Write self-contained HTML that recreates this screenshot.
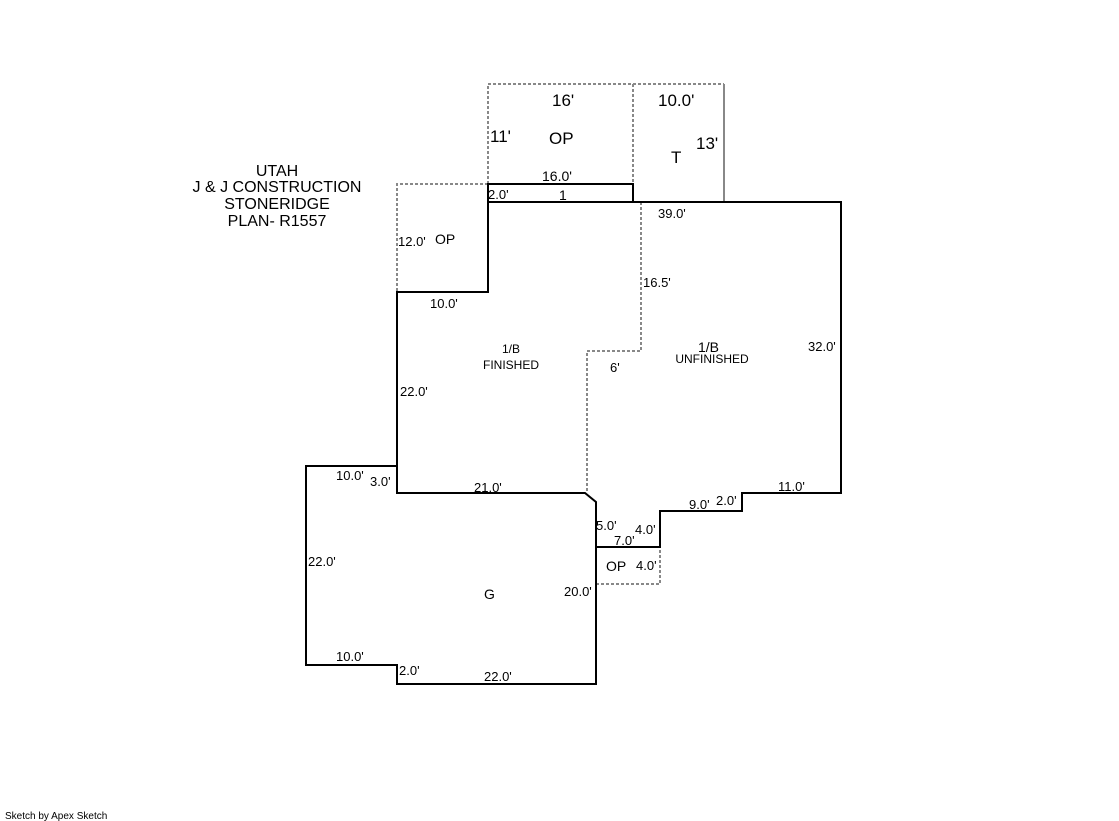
<!DOCTYPE html>
<html><head><meta charset="utf-8"><style>
html,body{margin:0;padding:0;background:#fff;}
svg{display:block;}
text{font-family:"Liberation Sans",Arial,sans-serif;fill:#000;}
</style></head><body>
<svg width="1119" height="821" viewBox="0 0 1119 821" xmlns="http://www.w3.org/2000/svg">
<g fill="none" stroke="#888" stroke-width="2" stroke-dasharray="3,2">
<polyline points="488,184 488,84 633,84 633,202"/>
<polyline points="633,84 724,84"/>
<polyline points="488,184 397,184 397,292"/>
<polyline points="641,202 641,351 587,351 587,493"/>
<polyline points="596,584 660,584 660,547"/>
</g>
<line x1="724" y1="84" x2="724" y2="202" stroke="#888" stroke-width="2"/>
<g fill="none" stroke="#000" stroke-width="2">
<rect x="488" y="184" width="145" height="18"/>
<polygon points="488,202 841,202 841,493 742,493 742,511 660,511 660,547 596,547 596,502 585,493 397,493 397,292 488,292"/>
<polyline points="397,466 306,466 306,665 397,665 397,684 596,684 596,547"/>
</g>
<g font-size="16" text-anchor="middle">
<text x="277" y="176">UTAH</text>
<text x="277" y="192">J &amp; J CONSTRUCTION</text>
<text x="277" y="209">STONERIDGE</text>
<text x="277" y="226">PLAN- R1557</text>
</g>
<g font-size="17">
<text x="552" y="106">16'</text>
<text x="490" y="142">11'</text>
<text x="549" y="144">OP</text>
<text x="658" y="106">10.0'</text>
<text x="696" y="149">13'</text>
<text x="671" y="163">T</text>
</g>
<g font-size="14">
<text x="542" y="181">16.0'</text>
<text x="559" y="200">1</text>
<text x="435" y="244">OP</text>
<text x="698" y="352">1/B</text>
<text x="606" y="571">OP</text>
<text x="484" y="599">G</text>
</g>
<g font-size="13">
<text x="488" y="199">2.0'</text>
<text x="398" y="246">12.0'</text>
<text x="658" y="218">39.0'</text>
<text x="643" y="287">16.5'</text>
<text x="430" y="308">10.0'</text>
<text x="808" y="351">32.0'</text>
<text x="610" y="372">6'</text>
<text x="400" y="396">22.0'</text>
<text x="336" y="480">10.0'</text>
<text x="370" y="486">3.0'</text>
<text x="474" y="492">21.0'</text>
<text x="778" y="491">11.0'</text>
<text x="689" y="509">9.0'</text>
<text x="716" y="505">2.0'</text>
<text x="596" y="530">5.0'</text>
<text x="635" y="534">4.0'</text>
<text x="614" y="545">7.0'</text>
<text x="636" y="570">4.0'</text>
<text x="308" y="566">22.0'</text>
<text x="564" y="596">20.0'</text>
<text x="336" y="661">10.0'</text>
<text x="399" y="675">2.0'</text>
<text x="484" y="681">22.0'</text>
</g>
<g font-size="12" text-anchor="middle">
<text x="511" y="353">1/B</text>
<text x="511" y="369">FINISHED</text>
<text x="712" y="363">UNFINISHED</text>
</g>
<text x="5" y="819" font-size="10">Sketch by Apex Sketch</text>
</svg>
</body></html>
